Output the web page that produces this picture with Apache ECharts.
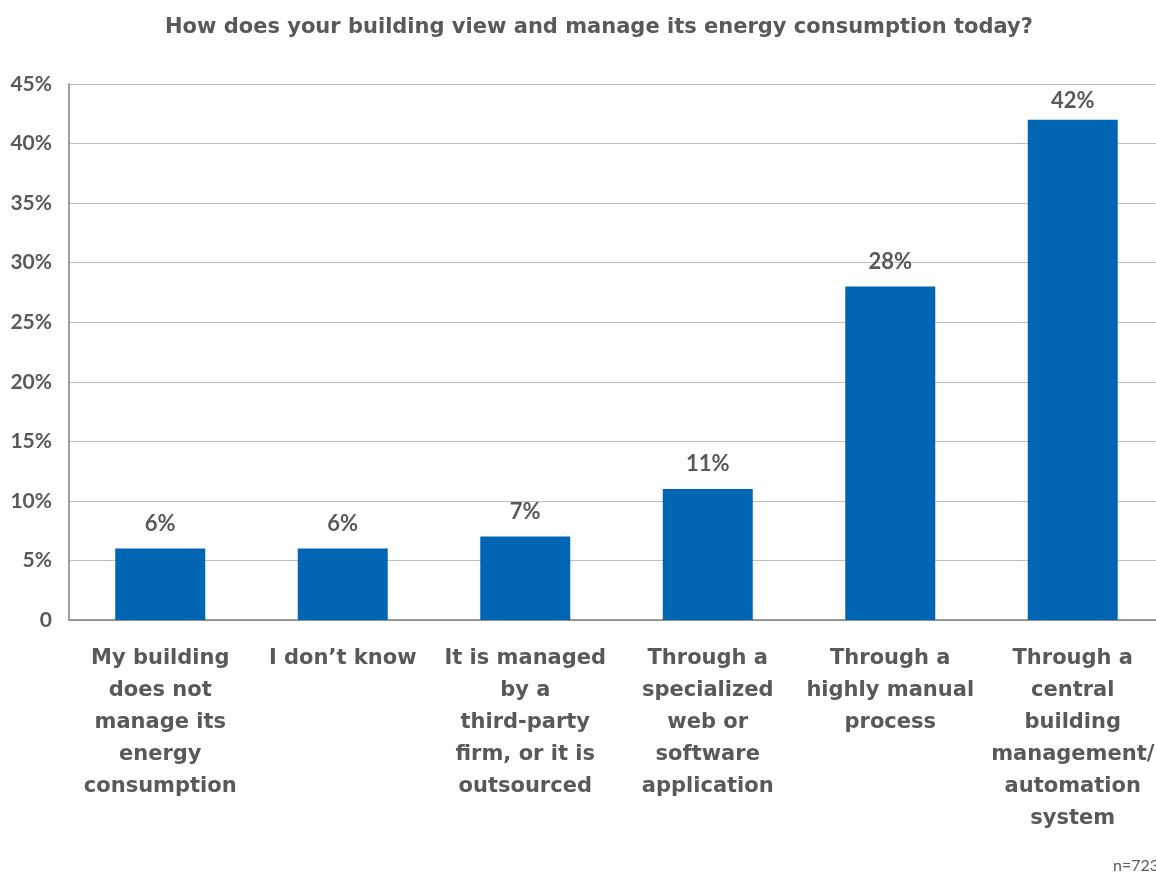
<!DOCTYPE html>
<html>
<head>
<meta charset="utf-8">
<script src="https://cdn.jsdelivr.net/npm/echarts@6/dist/echarts.min.js"></script>
<style>html,body{margin:0;padding:0;background:#fff;}#c{width:1156px;height:873px;overflow:hidden;}</style>
</head>
<body>
<div id="c"></div>
<script>
var categories = [
  "My building\ndoes not\nmanage its\nenergy\nconsumption",
  "I don\u2019t know",
  "It is managed\nby a\nthird-party\nfirm, or it is\noutsourced",
  "Through a\nspecialized\nweb or\nsoftware\napplication",
  "Through a\nhighly manual\nprocess",
  "Through a\ncentral\nbuilding\nmanagement/\nautomation\nsystem"
];
var values = [6, 6, 7, 11, 28, 42];
var titleText = "How does your building view and manage its energy consumption today?";
var noteText = "n=723";

var textColor = "#595959";
var seriesData = values.map(function (v, i) {
  return i === values.length - 1 ? {value: v, label: {distance: 8}} : v;
});
var chart = echarts.init(document.getElementById('c'), null, {renderer: 'canvas'});
chart.setOption({
  backgroundColor: '#ffffff',
  animation: false,
  title: {
    text: titleText,
    left: 160,
    top: 12,
    textStyle: {fontFamily: 'DejaVu Sans', fontWeight: 'bold', fontSize: 21, color: textColor}
  },
  grid: {left: 69, width: 1095, top: 84, height: 536, containLabel: false, outerBoundsMode: 'none'},
  xAxis: {
    type: 'category',
    data: categories,
    axisLine: {show: true, lineStyle: {color: '#7f7f7f', width: 1.5}},
    axisTick: {show: false},
    axisLabel: {
      interval: 0,
      margin: 23,
      fontFamily: 'DejaVu Sans',
      fontWeight: 'bold',
      fontSize: 21,
      lineHeight: 32,
      color: textColor,
      align: 'center'
    }
  },
  yAxis: {
    type: 'value',
    min: 0,
    max: 45,
    interval: 5,
    axisLine: {show: true, lineStyle: {color: '#7f7f7f', width: 1.5}},
    axisTick: {show: false},
    splitLine: {show: true, lineStyle: {color: '#c0c0c0', width: 1}},
    axisLabel: {
      margin: 17,
      fontFamily: 'Lato',
      fontWeight: 'bold',
      fontSize: 21,
      color: textColor,
      formatter: function (v) { return v === 0 ? '0' : v + '%'; }
    }
  },
  series: [{
    type: 'bar',
    data: seriesData,
    barWidth: 90,
    itemStyle: {color: '#0066b3'},
    label: {
      show: true,
      position: 'top',
      distance: 14,
      formatter: '{c}%',
      fontFamily: 'Lato',
      fontWeight: 'bold',
      fontSize: 22,
      color: textColor
    }
  }],
  graphic: [{
    type: 'text',
    left: 1113,
    top: 858,
    style: {text: noteText, fontFamily: 'Lato', fontSize: 16, fill: textColor}
  }]
});
</script>
</body>
</html>
